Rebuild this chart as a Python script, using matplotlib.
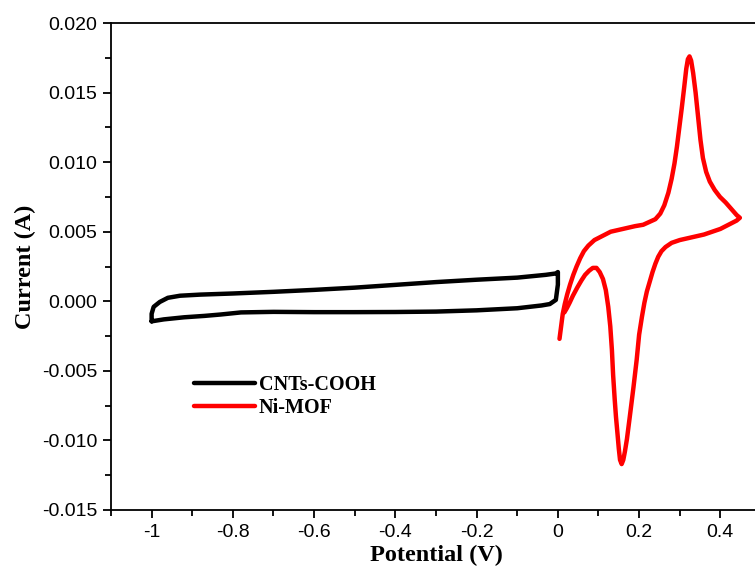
import matplotlib.pyplot as plt
from matplotlib.ticker import MultipleLocator, FormatStrFormatter, FuncFormatter

plt.rcParams['axes.unicode_minus'] = False

# CNTs-COOH cyclic voltammogram (potential V, current A)
cnt_v = [-1.0, -1.0, -0.995, -0.98, -0.96, -0.93, -0.88, -0.8, -0.7, -0.6, -0.5, -0.4,
         -0.3, -0.2, -0.1, -0.03, -0.005, 0.0, 0.0, -0.005, -0.02, -0.04, -0.1, -0.2,
         -0.3, -0.4, -0.5, -0.6, -0.7, -0.78, -0.83, -0.87, -0.92, -0.97, -1.0]
cnt_i = [-0.00144, -0.0009, -0.0004, -0.00005, 0.00025, 0.0004, 0.00048, 0.00056, 0.00068,
         0.00082, 0.00098, 0.00118, 0.00138, 0.00155, 0.0017, 0.0019, 0.002, 0.0021,
         0.0012, 0.0001, -0.0002, -0.0003, -0.0005, -0.00065, -0.00074, -0.00077,
         -0.00078, -0.00078, -0.00076, -0.0008, -0.00095, -0.00105, -0.00115, -0.0013,
         -0.00144]

# Ni-MOF cyclic voltammogram
mof_v = [0.004, 0.008, 0.012, 0.017, 0.023, 0.030, 0.038, 0.046, 0.055, 0.064, 0.075,
         0.09, 0.11, 0.13, 0.16, 0.19, 0.21, 0.225, 0.24, 0.252, 0.262, 0.272, 0.28,
         0.287, 0.293, 0.299, 0.305, 0.311, 0.316, 0.320, 0.324, 0.328, 0.333, 0.339,
         0.345, 0.351, 0.357, 0.365, 0.374, 0.386, 0.399, 0.413, 0.428, 0.440, 0.448,
         0.44, 0.42, 0.40, 0.38, 0.36, 0.33, 0.30, 0.28, 0.265, 0.255, 0.247, 0.24,
         0.233, 0.226, 0.219, 0.213, 0.207, 0.200, 0.194, 0.186, 0.177, 0.170, 0.165,
         0.161, 0.157, 0.153, 0.150, 0.147, 0.143, 0.140, 0.136, 0.133, 0.129, 0.124,
         0.118, 0.111, 0.103, 0.095, 0.086, 0.077, 0.067, 0.058, 0.048, 0.037, 0.029,
         0.022, 0.016]
mof_i = [-0.0027, -0.0018, -0.0009, -0.0002, 0.0005, 0.0012, 0.0019, 0.0025, 0.0031,
         0.0036, 0.004, 0.0044, 0.0047, 0.005, 0.0052, 0.0054, 0.0055, 0.0057, 0.0059,
         0.0063, 0.0069, 0.0078, 0.0088, 0.0099, 0.0111, 0.0125, 0.0139, 0.0154,
         0.0167, 0.0174, 0.0176, 0.0173, 0.0164, 0.015, 0.0133, 0.0116, 0.0103, 0.0093,
         0.0086, 0.008, 0.0075, 0.0071, 0.0066, 0.0062, 0.006,
         0.0058, 0.0055, 0.0052, 0.0050, 0.0048, 0.0046, 0.0044, 0.0042, 0.0039,
         0.0036, 0.0032, 0.0027, 0.0021, 0.0014, 0.0007, -0.0001, -0.0011, -0.0024,
         -0.0042, -0.0062, -0.0083, -0.0099, -0.0108, -0.0114, -0.0117, -0.0114,
         -0.0106, -0.0096, -0.0083, -0.0071, -0.0053, -0.0035, -0.0018, -0.0004,
         0.0008, 0.0016, 0.0021, 0.0024, 0.0024, 0.0022, 0.0019, 0.0015, 0.001,
         0.0004, -0.0001, -0.0005, -0.0008]

fig = plt.figure(figsize=(7.55, 5.72), dpi=100)
ax = fig.add_axes([111 / 755, 62 / 572, 650 / 755, 487 / 572])

ax.plot(cnt_v, cnt_i, color='black', linewidth=3.2, solid_joinstyle='round',
        solid_capstyle='round', label='CNTs-COOH')
ax.plot(mof_v, mof_i, color='#ff0000', linewidth=3.2, solid_joinstyle='round',
        solid_capstyle='round', label='Ni-MOF')

ax.set_xlim(-1.1, 0.5)
ax.set_ylim(-0.015, 0.020)

ax.xaxis.set_major_locator(MultipleLocator(0.2))
ax.xaxis.set_minor_locator(MultipleLocator(0.1))
ax.yaxis.set_major_locator(MultipleLocator(0.005))
ax.yaxis.set_minor_locator(MultipleLocator(0.0025))
ax.xaxis.set_major_formatter(FuncFormatter(lambda v, p: '%g' % round(v, 3)))
ax.yaxis.set_major_formatter(FormatStrFormatter('%.3f'))

ax.tick_params(which='major', direction='out', length=6, width=1.3,
               labelsize=14, pad=4)
ax.tick_params(which='minor', direction='out', length=4, width=1.3)
ax.tick_params(axis='x', which='both', top=False)
ax.tick_params(axis='y', which='both', right=False)
for lbl in ax.get_xticklabels() + ax.get_yticklabels():
    lbl.set_fontfamily('Liberation Sans')
for s in ax.spines.values():
    s.set_linewidth(1.3)

ax.set_xlabel('Potential (V)', fontsize=17.5, fontweight='bold',
              fontfamily='Liberation Serif', labelpad=3)
ax.set_ylabel('Current (A)', fontsize=17.5, fontweight='bold',
              fontfamily='Liberation Serif', labelpad=4)

ax.legend(loc='upper left', bbox_to_anchor=(0.1, 0.315), frameon=False,
          prop={'family': 'Liberation Serif', 'weight': 'bold', 'size': 14.5},
          handlelength=3.0, handletextpad=0.2, labelspacing=0.15)

plt.savefig('out.png', dpi=100)
